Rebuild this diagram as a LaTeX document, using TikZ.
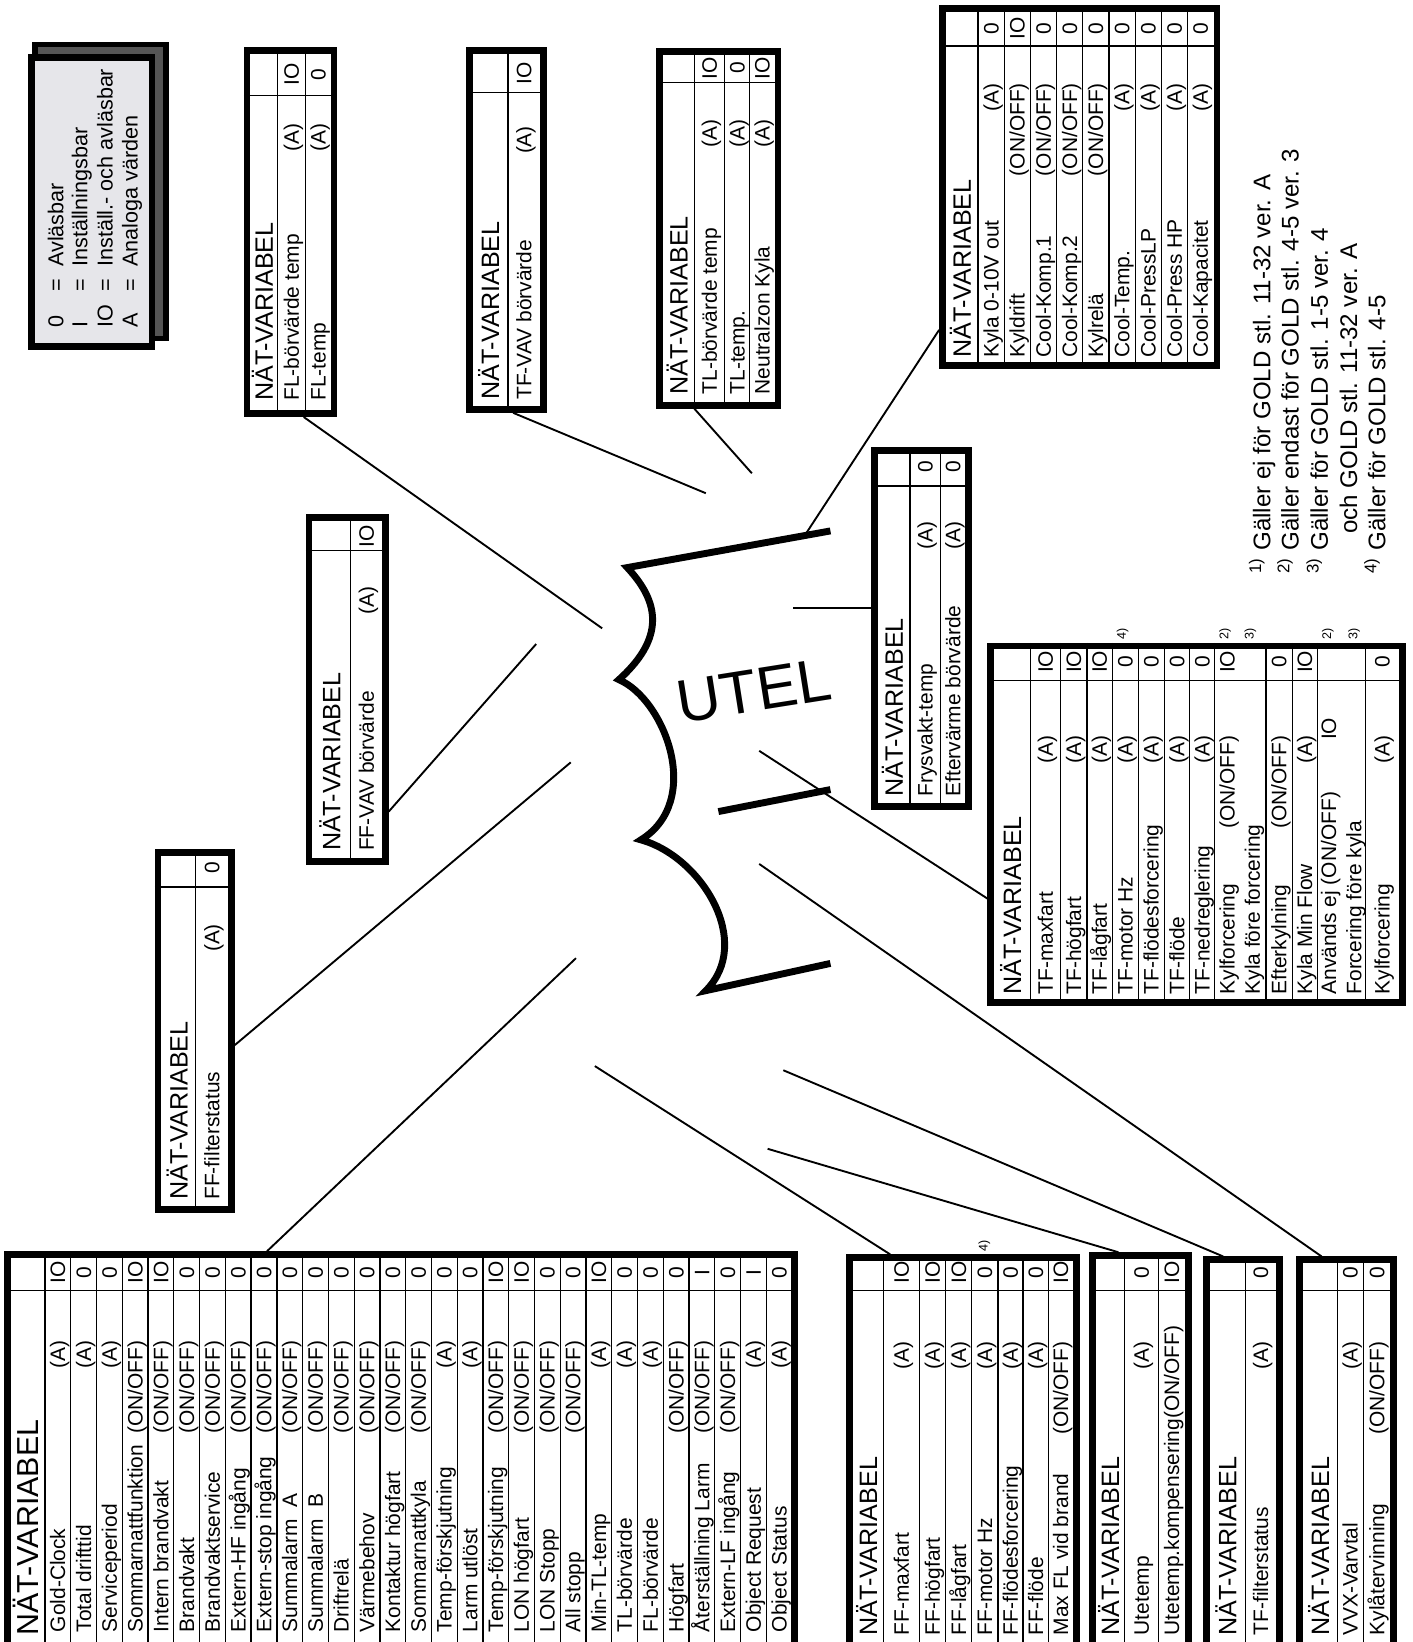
\documentclass[tikz,border=0pt]{standalone}
\usepackage{fontspec}
\setmainfont{Liberation Sans}
\usetikzlibrary{calc,fit}
\definecolor{legfill}{RGB}{230,230,234}
\definecolor{legshade}{RGB}{85,85,85}
\newcommand{\onoff}{(ON/OFF)}
\newcommand{\nvgrid}[6]{%
  \draw[gridln] (#1,-#5) -- (#3,-#5);
  \foreach \xx in {#6} {\draw[gridln] (\xx,-#2) -- (\xx,-#4);}%
}
\newcommand{\nvframe}[5]{%
  \coordinate (#1-a) at ({#2+3},{-#3-3});
  \coordinate (#1-b) at ({#4-3},{-#5+3});
  \node[nvbox, fit=(#1-a)(#1-b)] (#1) {};%
}
\newcommand{\nvhead}[4]{\node[#4, anchor=base west] (#1) at ({#2},{-#3}) {NÄT-VARIABEL};}
\newcommand{\nvrow}[5]{%
  \node[rowtxt, anchor=base west] (#1n) at ({#2+7},{-\NSt}) {#3};
  \node[rowtxt, anchor=base east] (#1q) at ({#2+7},{-\QTp}) {#4};
  \node[rowtxt, anchor=base] (#1v) at ({#2+7},{-\VCn}) {#5};%
}
\begin{document}
\begin{tikzpicture}[x=0.5pt,y=0.5pt,
  nvbox/.style={draw=black, line width=3.2pt, inner sep=0pt},
  gridln/.style={line width=0.6pt},
  rowtxt/.style={rotate=90, inner sep=0pt, font=\fontsize{10}{12}\selectfont},
  headtxt/.style={rotate=90, inner sep=0pt, font=\fontsize{12}{14}\selectfont},
  bighead/.style={rotate=90, inner sep=0pt, font=\fontsize{14.5}{17}\selectfont},
  legtxt/.style={rotate=90, inner sep=0pt, font=\fontsize{10.3}{12}\selectfont},
  foottxt/.style={rotate=90, inner sep=0pt, font=\fontsize{11.5}{13}\selectfont},
  marktxt/.style={rotate=90, inner sep=0pt, font=\fontsize{6}{7}\selectfont},
  conn/.style={line width=0.9pt},
  burst/.style={line width=3.3pt, line join=miter}]
\useasboundingbox (0,0) rectangle (1349,-1568);
\clip (0,0) rectangle (1349,-1568);
\fill[white] (0,0) rectangle (1349,-1568);

% legend
\coordinate (ls-a) at (33.5,-42.5); \coordinate (ls-b) at (158.5,-323.5);
\node[draw=black, line width=2.5pt, fill=legshade, inner sep=0pt, fit=(ls-a)(ls-b)] (legshadow) {};
\coordinate (lf-a) at (30,-55); \coordinate (lf-b) at (145,-331);
\node[draw=black, line width=3pt, fill=legfill, inner sep=0pt, fit=(lf-a)(lf-b)] (legfront) {};
\node[legtxt, anchor=base west] (l1s) at (60.5,-313) {0};
\node[legtxt, anchor=base] (l1e) at (60.5,-272) {=};
\node[legtxt, anchor=base west] (l1t) at (60.5,-255) {Avläsbar};
\node[legtxt, anchor=base west] (l2s) at (83.5,-313) {I};
\node[legtxt, anchor=base] (l2e) at (83.5,-272) {=};
\node[legtxt, anchor=base west] (l2t) at (83.5,-255) {Inställningsbar};
\node[legtxt, anchor=base west] (l3s) at (107.5,-313) {IO};
\node[legtxt, anchor=base] (l3e) at (107.5,-272) {=};
\node[legtxt, anchor=base west] (l3t) at (107.5,-255) {Inställ.- och avläsbar};
\node[legtxt, anchor=base west] (l4s) at (131.5,-313) {A};
\node[legtxt, anchor=base] (l4e) at (131.5,-272) {=};
\node[legtxt, anchor=base west] (l4t) at (131.5,-255) {Analoga värden};

% footnotes
\node[foottxt, anchor=base west] (fn1) at (1213,-548) {\textsuperscript{1)} Gäller ej för GOLD stl. 11-32 ver. A};
\node[foottxt, anchor=base west] (fn2) at (1240,-548) {\textsuperscript{2)} Gäller endast för GOLD stl. 4-5 ver. 3};
\node[foottxt, anchor=base west] (fn3) at (1268,-548) {\textsuperscript{3)} Gäller för GOLD stl. 1-5 ver. 4};
\node[foottxt, anchor=base west] (fn4) at (1296,-510) {och GOLD stl. 11-32 ver. A};
\node[foottxt, anchor=base west] (fn5) at (1323,-548) {\textsuperscript{4)} Gäller för GOLD stl. 4-5};

% FL
\nvgrid{233}{45}{322}{398}{91}{265,292}
\nvframe{fl}{233}{45}{322}{398}
\nvhead{flh}{260.6}{383}{headtxt}
\def\NSt{383}\def\QTp{118}\def\VCn{71}
\nvrow{fl1}{278.5}{FL-börvärde temp}{(A)}{IO}
\nvrow{fl2}{304}{FL-temp}{(A)}{0}

% TF-VAV
\nvgrid{445}{45}{522}{394}{88}{485}
\nvframe{tfvav}{445}{45}{522}{394}
\nvhead{tfvavh}{476.6}{382}{headtxt}
\def\NSt{382}\def\QTp{120}\def\VCn{70}
\nvrow{tv1}{500.5}{TF-VAV börvärde}{(A)}{IO}

% TL
\nvgrid{627}{46}{746}{390}{79}{663,692,716}
\nvframe{tl}{627}{46}{746}{390}
\nvhead{tlh}{656.6}{377}{headtxt}
\def\NSt{377}\def\QTp{114}\def\VCn{65}
\nvrow{tl1}{677.5}{TL-börvärde temp}{(A)}{IO}
\nvrow{tl2}{704}{TL-temp.}{(A)}{0}
\nvrow{tl3}{728}{Neutralzon Kyla}{(A)}{IO}

% Kyla
\nvgrid{897}{5}{1165}{352}{44}{934,959,984,1009,1034,1059,1084,1109,1134}
\nvframe{kyla}{897}{5}{1165}{352}
\nvhead{kylah}{927.1}{342}{headtxt}
\def\NSt{342}\def\QTp{79}\def\VCn{27}
\nvrow{ky1}{946.5}{Kyla 0-10V out}{(A)}{0}
\nvrow{ky2}{971.5}{Kyldrift}{\onoff}{IO}
\nvrow{ky3}{996.5}{Cool-Komp.1}{\onoff}{0}
\nvrow{ky4}{1021.5}{Cool-Komp.2}{\onoff}{0}
\nvrow{ky5}{1046.5}{Kylrelä}{\onoff}{0}
\nvrow{ky6}{1071.5}{Cool-Temp.}{(A)}{0}
\nvrow{ky7}{1096.5}{Cool-PressLP}{(A)}{0}
\nvrow{ky8}{1121.5}{Cool-Press HP}{(A)}{0}
\nvrow{ky9}{1146.5}{Cool-Kapacitet}{(A)}{0}

% FF-VAV
\nvgrid{292}{491}{371}{826}{526}{335}
\nvframe{ffvav}{292}{491}{371}{826}
\nvhead{ffvavh}{325.1}{813}{headtxt}
\def\NSt{813}\def\QTp{560}\def\VCn{512}
\nvrow{fv1}{350}{FF-VAV börvärde}{(A)}{IO}

% Frysvakt
\nvgrid{832}{427}{928}{773}{464}{869,898}
\nvframe{fry}{832}{427}{928}{773}
\nvhead{fryh}{862.1}{761}{headtxt}
\def\NSt{761}\def\QTp{498}\def\VCn{446}
\nvrow{fr1}{883.5}{Frysvakt-temp}{(A)}{0}
\nvrow{fr2}{910}{Eftervärme börvärde}{(A)}{0}

% TF
\nvgrid{943}{614}{1342}{960}{650}{984,1013,1038,1062,1087,1112,1136,1160,1209,1234,1258,1304}
\nvframe{tf}{943}{614}{1342}{960}
\nvhead{tfh}{975.1}{950}{headtxt}
\def\NSt{950}\def\QTp{702}\def\VCn{632}
\nvrow{tf1}{998.5}{TF-maxfart}{(A)}{IO}
\nvrow{tf2}{1025.5}{TF-högfart}{(A)}{IO}
\nvrow{tf3}{1050}{TF-lågfart}{(A)}{IO}
\nvrow{tf4}{1074.5}{TF-motor Hz}{(A)}{0}
\nvrow{tf5}{1099.5}{TF-flödesforcering}{(A)}{0}
\nvrow{tf6}{1124}{TF-flöde}{(A)}{0}
\nvrow{tf7}{1148}{TF-nedreglering}{(A)}{0}
\nvrow{tf8}{1172}{Kylforcering}{\onoff}{IO}
\nvrow{tf9}{1196}{Kyla före forcering}{}{}
\nvrow{tf10}{1221.5}{Efterkylning}{\onoff}{0}
\nvrow{tf11}{1246}{Kyla Min Flow}{(A)}{IO}
\nvrow{tf12}{1269}{Används ej (ON/OFF)}{}{}
\node[rowtxt, anchor=base] (tf12x) at (1276,-696) {IO};
\nvrow{tf13}{1293}{Forcering före kyla}{}{}
\nvrow{tf14}{1320}{Kylforcering}{(A)}{0}
\node[marktxt] (m1) at (1072,-605) {4)};
\node[marktxt] (m2) at (1170,-605) {2)};
\node[marktxt] (m3) at (1194,-605) {3)};
\node[marktxt] (m4) at (1268,-605) {2)};
\node[marktxt] (m5) at (1293,-605) {3)};

% FF-filterstatus
\nvgrid{148}{811}{224}{1158}{847}{187}
\nvframe{fff}{148}{811}{224}{1158}
\nvhead{fffh}{179.1}{1146}{headtxt}
\def\NSt{1146}\def\QTp{882}\def\VCn{829}
\nvrow{ff1}{202.5}{FF-filterstatus}{(A)}{0}

% big table
\nvgrid{4}{1195}{762}{1600}{1232}{43,67.6,...,732}
\nvframe{big}{4}{1195}{762}{1600}
\nvhead{bigh}{36.9}{1562}{bighead}
\def\NSt{1559}\def\QTp{1280}\def\VCn{1215}
\foreach \nm/\ql/\vl [count=\k from 0] in {
 Gold-Clock/(A)/IO, Total drifttid/(A)/0, Serviceperiod/(A)/0,
 Sommarnattfunktion/\onoff/IO, Intern brandvakt/\onoff/IO, Brandvakt/\onoff/0,
 Brandvaktservice/\onoff/0, Extern-HF ingång/\onoff/0, Extern-stop ingång/\onoff/0,
 Summalarm~~A/\onoff/0, Summalarm~~B/\onoff/0, Driftrelä/\onoff/0,
 Värmebehov/\onoff/0, Kontaktur högfart/\onoff/0, Sommarnattkyla/\onoff/0,
 Temp-förskjutning/(A)/0, Larm utlöst/(A)/0, Temp-förskjutning/\onoff/IO,
 LON högfart/\onoff/IO, LON Stopp/\onoff/0, All stopp/\onoff/0,
 Min-TL-temp/(A)/IO, TL-börvärde/(A)/0, FL-börvärde/(A)/0,
 Högfart/\onoff/0, Återställning Larm/\onoff/I, Extern-LF ingång/\onoff/0,
 Object Request/(A)/I, Object Status/(A)/0} {
  \pgfmathsetmacro\xc{55.3+24.6*\k}
  \nvrow{b\k}{\xc}{\nm}{\ql}{\vl}
}

% FF bottom
\nvgrid{808}{1198}{1031}{1600}{1232}{844,878,903,928,953,977,1001}
\nvframe{ffb}{808}{1198}{1031}{1600}
\nvhead{ffbh}{837.6}{1562}{headtxt}
\def\NSt{1562}\def\QTp{1281}\def\VCn{1215}
\nvrow{fb1}{861}{FF-maxfart}{(A)}{IO}
\nvrow{fb2}{890.5}{FF-högfart}{(A)}{IO}
\nvrow{fb3}{915.5}{FF-lågfart}{(A)}{IO}
\nvrow{fb4}{940.5}{FF-motor Hz}{(A)}{0}
\nvrow{fb5}{965}{FF-flödesforcering}{(A)}{0}
\nvrow{fb6}{989}{FF-flöde}{(A)}{0}
\nvrow{fb7}{1013}{Max FL vid brand}{\onoff}{IO}
\node[marktxt] (m6) at (940,-1190) {4)};

% Utetemp
\nvgrid{1040}{1196}{1138}{1600}{1232}{1074,1106}
\nvframe{ute}{1040}{1196}{1138}{1600}
\nvhead{uteh}{1068.6}{1562}{headtxt}
\nvrow{ut1}{1090}{Utetemp}{(A)}{0}
\nvrow{ut2}{1119}{Utetemp.kompensering(ON/OFF)}{}{IO}

% TF-filterstatus
\nvgrid{1149}{1200}{1225}{1600}{1232}{1189}
\nvframe{tff}{1149}{1200}{1225}{1600}
\nvhead{tffh}{1180.6}{1562}{headtxt}
\nvrow{tq1}{1204}{TF-filterstatus}{(A)}{0}

% VVX
\nvgrid{1238}{1200}{1334}{1600}{1232}{1277,1302}
\nvframe{vvx}{1238}{1200}{1334}{1600}
\nvhead{vvxh}{1269.1}{1562}{headtxt}
\nvrow{vx1}{1289.5}{VVX-Varvtal}{(A)}{0}
\nvrow{vx2}{1315}{Kylåtervinning}{\onoff}{0}

% UTEL burst
\draw[burst] (793,-507) -- (599,-542) .. controls (625,-570) and (640,-605) .. (591,-649)
  .. controls (635,-668) and (672,-765) .. (612,-802)
  .. controls (670,-818) and (720,-900) .. (674,-946) -- (793,-920);
\draw[burst] (686,-775) -- (793,-754);
\node[rotate=9, inner sep=0pt, font=\fontsize{29}{30}\selectfont] (utel) at (720,-660) {UTEL};

% connector ends
\coordinate (e1) at (575,-600);
\coordinate (e2) at (674,-471);
\coordinate (e3) at (718,-452);
\coordinate (e4) at (770,-509);
\coordinate (e5) at (757,-581);
\coordinate (e6) at (512,-615);
\coordinate (e7) at (545,-728);
\coordinate (e8) at (550,-915);
\coordinate (e9) at (568,-1018);
\coordinate (e10) at (733,-1097);
\coordinate (e11) at (748,-1022);
\coordinate (e12) at (725,-825);
\coordinate (e13) at (725,-717);

\draw[conn] ($(fl.south)+(12.5,0)$) -- (e1);
\draw[conn] ($(tfvav.south)+(6.5,0)$) -- (e2);
\draw[conn] ($(tl.south)+(-23.5,0)$) -- (e3);
\draw[conn] ($(kyla.west)+(0,-136.5)$) -- (e4);
\draw[conn] ($(fry.west)+(0,19)$) -- (e5);
\draw[conn] ($(ffvav.east)+(0,-116.5)$) -- (e6);
\draw[conn] ($(fff.east)+(0,-13.5)$) -- (e7);
\draw[conn] ($(big.north)+(-128,0)$) -- (e8);
\draw[conn] ($(ffb.north)+(-69.5,0)$) -- (e9);
\draw[conn] ($(ute.north)+(-21,0)$) -- (e10);
\draw[conn] ($(tff.north)+(-19,0)$) -- (e11);
\draw[conn] ($(vvx.north)+(-24,0)$) -- (e12);
\draw[conn] ($(tf.west)+(0,-71)$) -- (e13);
\end{tikzpicture}
\end{document}
